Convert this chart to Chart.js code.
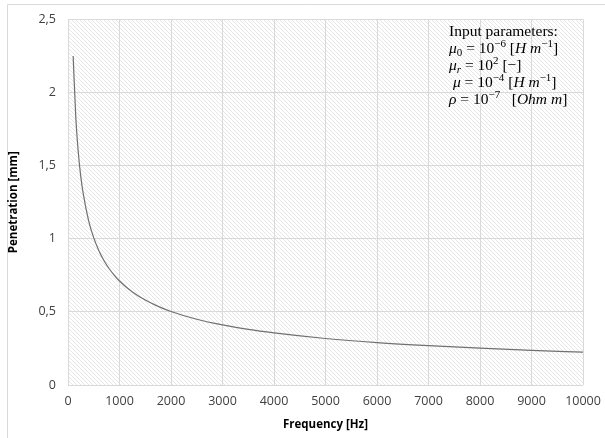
<!DOCTYPE html>
<html>
<head>
<meta charset="utf-8">
<script src="https://cdn.jsdelivr.net/npm/chart.js@4.4.1/dist/chart.umd.min.js"></script>
<style>
html,body{margin:0;padding:0;background:#fff;}
#wrap{position:relative;width:605px;height:438px;}
canvas{display:block;}
</style>
</head>
<body>
<div id="wrap"><canvas id="c" width="605" height="438"></canvas></div>
<script>
// Data
const frequencies = [100,150,200,250,300,400,500,600,700,800,900,1000,1250,1500,1750,2000,2500,3000,3500,4000,5000,6000,7000,8000,9000,10000];
const penetration = [2.25,1.84,1.59,1.42,1.30,1.125,1.006,0.919,0.850,0.795,0.750,0.711,0.636,0.581,0.538,0.503,0.450,0.411,0.380,0.356,0.318,0.290,0.269,0.252,0.237,0.225];
const xTicks = [0,1000,2000,3000,4000,5000,6000,7000,8000,9000,10000];
const yTicks = [0,0.5,1,1.5,2,2.5];
const yTickLabels = ['0','0,5','1','1,5','2','2,5'];
const xTitle = 'Frequency [Hz]';
const yTitle = 'Penetration [mm]';

const annotationLines = [
  [{t:'Input parameters:'}],
  [{t:'μ',i:1},{t:'0',sub:1},{t:' = 10'},{t:'−6',sup:1},{t:' ['},{t:'H m',i:1},{t:'−1',sup:1},{t:']'}],
  [{t:'μ',i:1},{t:'r',i:1,sub:1},{t:' = 10'},{t:'2',sup:1},{t:' [−]'}],
  [{t:' '},{t:'μ',i:1},{t:' = 10'},{t:'−4',sup:1},{t:' ['},{t:'H m',i:1},{t:'−1',sup:1},{t:']'}],
  [{t:'ρ',i:1},{t:' = 10'},{t:'−7',sup:1},{t:'   ['},{t:'Ohm m',i:1},{t:']'}]
];

const points = frequencies.map((f,k)=>({x:f,y:penetration[k]}));

function makeHatch(ctx){
  const p = document.createElement('canvas');
  p.width = 4; p.height = 4;
  const g = p.getContext('2d');
  g.fillStyle = '#ffffff'; g.fillRect(0,0,4,4);
  g.strokeStyle = '#e6e6e6'; g.lineWidth = 1;
  g.beginPath();
  g.moveTo(-1,-1); g.lineTo(5,5);
  g.moveTo(-1,3); g.lineTo(1,5);
  g.moveTo(3,-1); g.lineTo(5,1);
  g.stroke();
  return ctx.createPattern(p,'repeat');
}

const bgPlugin = {
  id:'bg',
  beforeDraw(chart){
    const ctx = chart.ctx, a = chart.chartArea;
    ctx.save();
    ctx.fillStyle = '#fff';
    ctx.fillRect(0,0,chart.width,chart.height);
    ctx.strokeStyle = '#d9d9d9'; ctx.lineWidth = 1;
    ctx.beginPath();
    ctx.moveTo(7.5,438); ctx.lineTo(7.5,4.5); ctx.lineTo(605,4.5);
    ctx.stroke();
    ctx.fillStyle = makeHatch(ctx);
    ctx.fillRect(a.left,a.top,a.right-a.left,a.bottom-a.top);
    ctx.restore();
  }
};

const annoPlugin = {
  id:'anno',
  afterDraw(chart){
    const ctx = chart.ctx;
    ctx.save();
    ctx.fillStyle = '#000';
    ctx.textBaseline = 'alphabetic';
    const x0 = 449, y0 = 36, lh = 17, size = 15.5;
    annotationLines.forEach((line,li)=>{
      let x = x0; const yb = y0 + li*lh;
      line.forEach(r=>{
        const s = (r.sup||r.sub) ? 11 : size;
        ctx.font = (r.i?'italic ':'') + s + 'px "Liberation Serif", serif';
        const dy = r.sup ? -6 : (r.sub ? 3 : 0);
        ctx.fillText(r.t, x, yb+dy);
        x += ctx.measureText(r.t).width;
      });
    });
    ctx.restore();
  }
};

new Chart(document.getElementById('c'), {
  type:'line',
  data:{datasets:[{data:points,borderColor:'#707070',borderWidth:1.2,pointRadius:0,cubicInterpolationMode:'monotone',fill:false}]},
  options:{
    responsive:false, animation:false,
    layout:{padding:{top:17,right:22,left:0,bottom:0}},
    plugins:{legend:{display:false},tooltip:{enabled:false}},
    scales:{
      x:{type:'linear',min:0,max:10000,
        afterBuildTicks(s){s.ticks = xTicks.map(v=>({value:v}));},
        afterFit(s){s.height = 53; s.paddingRight = 0;},
        grid:{color:'#d9d9d9',drawTicks:false,lineWidth:1},
        border:{display:false},
        ticks:{color:'#404040',font:{family:'"Open Sans", Lato, sans-serif',size:12.5},padding:9,maxRotation:0,autoSkip:false,
          callback(v){return String(v);}},
        title:{display:true,text:xTitle,color:'#000',font:{family:'"Open Sans", Lato, sans-serif',size:11.5,weight:'bold'},padding:{top:4,bottom:6}}
      },
      y:{type:'linear',min:0,max:2.5,
        afterBuildTicks(s){s.ticks = yTicks.map(v=>({value:v}));},
        afterFit(s){s.width = 68;},
        grid:{color:'#d9d9d9',drawTicks:false,lineWidth:1},
        border:{display:false},
        ticks:{color:'#404040',font:{family:'"Open Sans", Lato, sans-serif',size:12.5},padding:12,autoSkip:false,
          callback(v){const k=yTicks.indexOf(v);return k>=0?yTickLabels[k]:'';}},
        title:{display:true,text:yTitle,color:'#000',font:{family:'"Open Sans", Lato, sans-serif',size:11.5,weight:'bold'},padding:{top:7,bottom:4}}
      }
    }
  },
  plugins:[bgPlugin,annoPlugin]
});
</script>
</body>
</html>
